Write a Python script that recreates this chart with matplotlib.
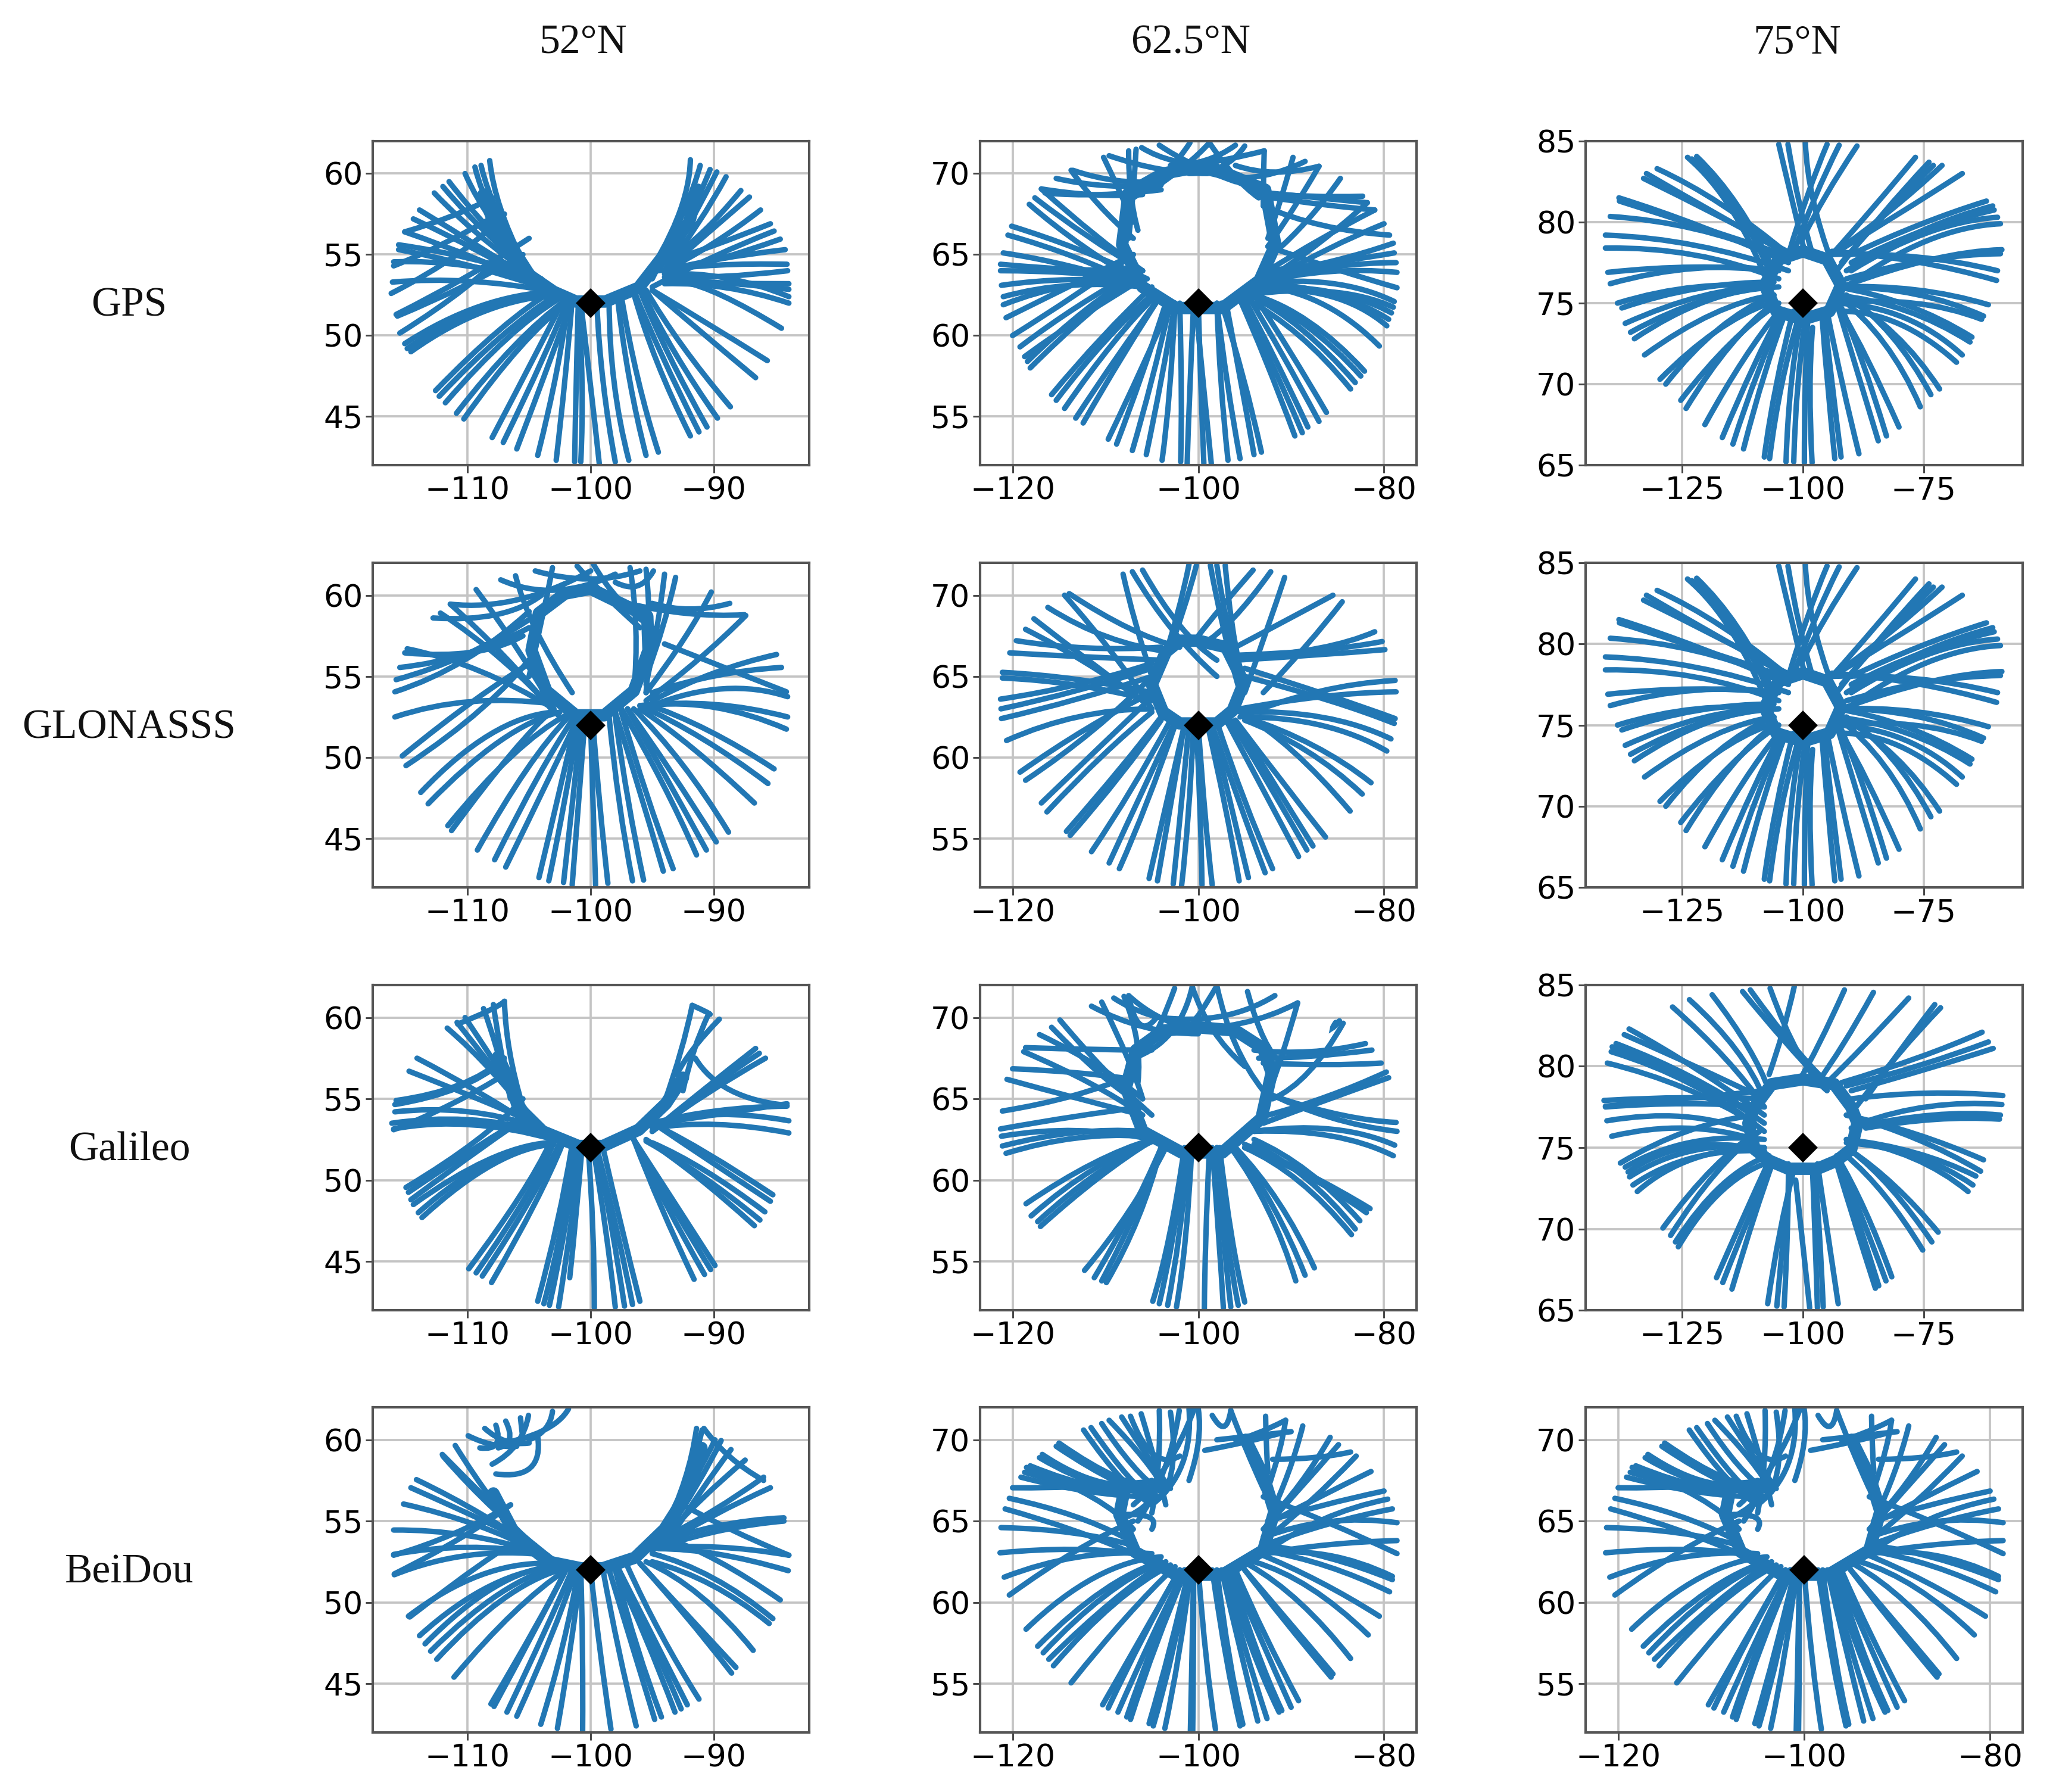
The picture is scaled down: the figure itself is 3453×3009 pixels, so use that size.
#!/usr/bin/env python
"""Ground tracks seen from three latitudes, one row per constellation."""

import matplotlib
matplotlib.use("Agg")
import matplotlib.pyplot as plt
from matplotlib.patches import PathPatch
from matplotlib.path import Path

# each track: outer end lon/lat, bend point lon/lat, inner end lon/lat
gps_52 = [
    (-108.2,60.8,-107.8,58,-105.5,54.6), (-108.9,60.5,-108,57.5,-104.5,53.6), (-109.4,60.4,-108.5,57.5,-104.5,53.4),
    (-110.2,60,-108.5,57,-103.5,52.8), (-111.5,59.5,-108.5,56.5,-103,52.6), (-112,59.2,-108.5,56,-102.5,52.4),
    (-112.7,58.8,-109,55.8,-102,52.2), (-113.9,57.75,-109,55.5,-103.5,52.8), (-114.4,57.2,-109,55.3,-104,53),
    (-115.1,56.4,-109,54.8,-103.5,52.8), (-115.1,56.4,-111,57.3,-108,58.5), (-115.6,55.6,-110,55,-104,53.5),
    (-115.6,55.3,-110,54.5,-104,53), (-116,54.55,-110,54.7,-104.5,53.3), (-116,54.3,-112,55.5,-107.5,57.5),
    (-116.1,53.3,-110,53.7,-103,52.7), (-116.2,52.6,-110,55,-107,57.5), (-115.8,51.3,-110,53.5,-105,56),
    (-115.7,51.2,-110,53,-105.5,55), (-115.5,50.15,-109.5,53,-106.5,55.5), (-115.1,49.5,-109,52.5,-103,52.7),
    (-114.9,49.2,-108.5,52.5,-102.5,52.4), (-114.6,49,-108.5,52.3,-102.5,52.5), (-112.6,46.6,-107,51,-103,52.8),
    (-112.3,46.25,-107,50.5,-102.8,52.5), (-111.8,45.85,-106.5,50.5,-102.5,52.3), (-110.9,45.2,-106,50,-102,52.2),
    (-110.3,44.85,-105.5,50,-101.8,52.1), (-108,43.7,-104,49.5,-102,52.5), (-107.1,43.4,-103.5,49,-101.8,52.3),
    (-106,43,-103,49,-101.5,52.2), (-104.3,42.6,-102.5,48,-101.8,52.3), (-102.8,42.3,-102,47.5,-101.5,52.2),
    (-101.3,42.2,-101.2,47,-101,52.1), (-100.8,42.2,-100.5,47,-101,52), (-99.3,42.1,-100,47,-100.8,52),
    (-98,42.2,-99.2,47,-99.5,52), (-96.9,42.3,-98.5,47,-98.5,52.2), (-95.5,42.6,-97,47,-97.8,52.2),
    (-94.5,42.8,-96.3,47,-97.5,52.4), (-91.9,43.8,-95,48.5,-96.5,52.6), (-91.2,44.05,-94.5,49,-96.5,52.8),
    (-90.55,44.35,-94,49,-96,52.8), (-89.7,44.9,-93.5,49,-95.8,52.7), (-88.65,45.6,-93,49.5,-95.5,52.8),
    (-86.6,47.4,-91.5,50.5,-95,52.8), (-85.65,48.45,-91,51,-95,52.8), (-84.5,50.45,-90,53,-92.5,53.3),
    (-83.9,52,-89,53.3,-94,53.2), (-83.9,52.4,-89,54,-94,53.8), (-83.9,52.85,-88.5,53.3,-93.5,53.4),
    (-83.9,53.2,-89,53.2,-94,53.3), (-84,54,-89.5,53.5,-94,53.6), (-84.05,54.4,-90,54.5,-94.5,54),
    (-84.2,55.3,-90,54.8,-94,54), (-84.6,55.95,-90,54.5,-93.5,54), (-85.1,56.45,-90,55,-95,53),
    (-85.4,56.9,-90,55.5,-94,54.5), (-86.2,57.75,-90,55.5,-94,54), (-87.1,58.55,-91,56,-94,54),
    (-87.8,58.95,-91,56,-93.5,54.8), (-89,59.8,-91,57,-94,54), (-89.75,60.1,-91.5,57.5,-94,54),
    (-90.3,60.25,-91.7,57.5,-94.5,54), (-91.1,60.5,-92,58,-95,53.5), (-91.9,60.85,-92,57.5,-96,53),
]
gps_625 = [
    (-109.6,71.1,-104,70,-99,70), (-110.2,71,-108.5,69,-107,67), (-107.5,71.4,-107.5,68.5,-106.5,66.5),
    (-106.7,71.5,-107,68.5,-107.5,66), (-106.1,71.6,-103,70.5,-98,70.5), (-104.2,71.75,-101,70.5,-96,69.5),
    (-100.9,71.9,-103,70,-107,68.5), (-98.8,71.9,-101,70.5,-105,69), (-98.8,71.9,-96,69.5,-93.5,68.5),
    (-96,71.75,-99,70.5,-103,70.5), (-95,71.7,-97,70,-101,70), (-92.9,71.4,-97,70.8,-101,70.5),
    (-92.9,71.4,-93,69.5,-93,68), (-89.8,71,-91,68.5,-92.5,66), (-88.5,70.75,-93,69.5,-97,69.8),
    (-87,70.45,-92,69.7,-96,70.5), (-87,70.45,-90,67.5,-92.5,65.5), (-84.7,69.7,-88,67,-92,65),
    (-82.3,68.6,-88,68.5,-93.5,68.8), (-81.8,68.2,-87,68.5,-92.5,68.8), (-81.8,68.2,-87,65.5,-92.5,63.5),
    (-81,67.75,-87,66,-92.5,64), (-81,67.75,-86,68,-92,68.5), (-80,66.9,-86,65.5,-92,63.5),
    (-79.4,66.2,-87,66.5,-93,68), (-79,65.7,-85,64.5,-92.3,63.8), (-78.9,65.1,-85,64.5,-92.5,64),
    (-78.7,64.5,-85,64.5,-93,63.5), (-78.6,63.9,-86,64.3,-93,63.3), (-78.6,62.95,-85,64,-92.5,65.5),
    (-78.9,62.1,-85,63.8,-94,63.2), (-79,61.75,-85,63.3,-95,62.5), (-79.2,61.4,-85,63.2,-94,63),
    (-79.5,61,-85,63,-94,63.3), (-79.7,60.6,-85,63.2,-94,62.8), (-80.5,59.35,-86,62.5,-92.5,63),
    (-82.1,57.8,-88,61.5,-94,62.5), (-82.5,57.5,-88,61,-94,62.5), (-83.1,57.1,-89,61,-94.5,62.5),
    (-83.6,56.7,-89,60.5,-95,62.3), (-86.2,55.25,-90,59,-94,62.5), (-87,54.7,-91,59,-94.5,62.3),
    (-88.2,54.35,-92,59,-95,62.2), (-88.8,54,-92.5,59,-95.5,62.2), (-89.6,53.8,-93,59,-95.5,62.2),
    (-93.2,52.8,-95,57.5,-97.5,62), (-94,52.65,-95.5,57.5,-97,62), (-95.5,52.4,-97,57,-98,62),
    (-96.8,52.3,-97.7,57,-98,62), (-98.6,52.1,-99.3,56,-100.3,62), (-99.4,52.1,-99.7,56,-100,62),
    (-101.2,52.05,-101,56,-100.5,62), (-101.9,52.2,-101.7,56,-102,62), (-103.9,52.3,-103,56,-102.5,62),
    (-105.6,52.65,-104,57,-102.5,62), (-107.1,52.9,-105,57,-103,62), (-108.8,53.3,-106,57.5,-103.5,62),
    (-109.7,53.6,-106,58,-103,62), (-112.4,54.6,-108,59,-104,62.5), (-113.2,54.9,-108.5,59,-104,62.5),
    (-114.4,55.5,-109,60,-104.5,62.5), (-115.3,56,-110,60,-105,62.5), (-115.8,56.35,-110.5,60,-105,63),
    (-118.1,58,-112,61.5,-106,64), (-118.4,58.4,-112,62,-106,64), (-118.7,58.7,-112,61.5,-106,63.5),
    (-119.2,59.3,-113,62,-106.5,64), (-120,60,-113,62.5,-107,65), (-120.7,61.1,-114,63,-107,65),
    (-121,61.9,-114,63.5,-106,63.5), (-121,62.4,-114,63.5,-106,63), (-121.2,63.1,-114,63.7,-106,63.3),
    (-121.3,64,-114,64,-106,63.5), (-121.3,64.4,-114,64,-107,64), (-121,65.1,-114,64.5,-106,63),
    (-120.5,66.2,-113,65,-106,63), (-120.1,66.75,-113,65.5,-105.5,63.5), (-118.2,68.1,-113,65.5,-105.5,63),
    (-117.6,68.5,-112,66,-106,64), (-116.9,69.05,-111,66,-106,64), (-116.9,69.05,-111,68.5,-106,68.7),
    (-116.5,68.8,-111,68.5,-104,69), (-115.3,69.7,-110,69,-104,69.3), (-113.7,70.2,-111,68,-107,66),
    (-113.5,70.2,-109,69.3,-104,69.5),
]
gps_75 = [
    (-105,84.8,-102,81,-99.5,78), (-103.1,84.8,-101,81,-98,78), (-99.5,84.9,-99,81.5,-94,77.5),
    (-95,84.8,-99,82,-103,78), (-92.5,84.75,-98,81.5,-102,78), (-88.8,84.7,-96,81.5,-100,79),
    (-76.7,84,-85,81,-94,78), (-73.9,83.7,-84,80.5,-93,77), (-71.2,83.5,-82,80.5,-94,78),
    (-73,83.5,-85,80,-92,77.5), (-67,83,-80,80.5,-95,77.8), (-62,81.3,-76,80,-90,78),
    (-60.7,81,-76,79.8,-91,77), (-60.4,80.75,-76,79.7,-90,77.5), (-59.7,80.3,-74,80,-90,77),
    (-59.1,79.9,-74,79.7,-91,76), (-58.8,78.3,-72,78.2,-92,76), (-59.1,78.05,-74,78,-91,76.5),
    (-59.7,77,-76,78.2,-94,78), (-59.9,76.4,-76,77.8,-94,78.2), (-61.6,74.9,-76,76.2,-93,76),
    (-62.6,74.2,-76,76,-92,76), (-63,74,-76,75.5,-93,75), (-65,72.9,-78,75.3,-93,76),
    (-65.4,72.6,-78,75,-93,75.5), (-67,71.8,-78,74.8,-93,75), (-68.2,71.35,-80,74.5,-92,74.5),
    (-71.7,69.7,-80,73.5,-92,75.5), (-73.5,69.35,-81,73.5,-91,75.5), (-75.7,68.6,-82,73,-93,75.5),
    (-80.1,67.35,-87,72,-92,74.5), (-82.7,66.8,-88,72,-92,74.7), (-84.4,66.5,-89,71,-93,75),
    (-88.4,65.7,-92,70,-95,74.5), (-92.1,65.5,-94,70,-95.5,74), (-93.4,65.4,-95,70,-96,74),
    (-98.1,65.15,-99,70,-98,73.5), (-99.7,65.15,-99.7,70,-99,74), (-101.9,65.2,-101.5,70,-99.5,74),
    (-103.5,65.2,-103,70,-100.5,74), (-106.9,65.4,-105,70,-101,74), (-108,65.5,-106,70,-102,74.5),
    (-112.3,66,-108,71,-103.5,74.5), (-114.5,66.3,-109.5,71,-104,74.5), (-116.7,66.7,-110,71.5,-104.5,74.5),
    (-120.3,67.5,-112,72,-105,74.5), (-124.2,68.5,-115,73,-106,75), (-125.3,69,-115,73,-105,75),
    (-128.4,70,-118,74,-106,75.5), (-129.6,70.3,-118,73.8,-107,75), (-132.8,71.8,-118,75,-106,75.5),
    (-134.9,72.8,-120,75.8,-106,76), (-135.7,73.2,-120,75.8,-105,76), (-136.8,73.75,-120,76,-107,76),
    (-138.4,75,-122,76.5,-106,76), (-137.5,74.7,-122,76.3,-106,76.3), (-139.9,76.2,-122,77.7,-105,77),
    (-140.4,76.9,-122,77.5,-106,77), (-140.9,78.4,-122,78.5,-105,76.5), (-140.9,79.2,-122,79,-103,77),
    (-139.9,80.35,-122,80,-106,78), (-138.1,81.5,-122,80,-103,77.5), (-138,81.3,-122,79.8,-104,78),
    (-133,82.7,-118,80.5,-102,78), (-132.4,83,-118,80.5,-103,78), (-130.2,83.3,-117,81.5,-103,78),
    (-123.9,84,-114,81.5,-107,76), (-122,84.05,-113,81.5,-106,77), (-123,83.9,-113,81.3,-107,77),
]
glonass_52 = [
    (-103.1,61.7,-103.5,60,-105,55), (-104.5,61.5,-100,60.5,-96,61.5), (-106.1,61.2,-105,58,-101.5,54),
    (-107.3,60.95,-103,59.5,-98,61.3), (-109.3,60.35,-106,57,-103,53), (-111.4,59.45,-106,59,-100,61.5),
    (-111.4,59.45,-107,56.5,-103,52.8), (-112.2,58.9,-107,56.3,-102.5,52.5), (-112.8,58.6,-107,58.3,-104,60),
    (-114.9,56.7,-109,55.8,-103,53), (-115.1,56.45,-109,56,-105.5,57.5), (-115.5,55.55,-110,56,-105,58),
    (-115.8,54.8,-110,56,-105,58.5), (-115.9,54.05,-110,55.5,-105,59), (-115.9,52.5,-110,54,-103,53.3),
    (-115.3,50.1,-109,54,-104.5,56), (-115,49.5,-108,53,-104.5,56.5), (-113.8,47.85,-108,52.5,-103,52.8),
    (-113.2,47.15,-107,52,-102.5,52.8), (-111.6,45.8,-106,51,-102,52.6), (-111.3,45.5,-106,51,-103,53),
    (-109.2,44.3,-105,50,-101.8,52.5), (-107.8,43.7,-104,49.5,-101.5,52.3), (-106.9,43.25,-103.5,48.5,-101,52.5),
    (-104.2,42.6,-102.5,48,-101.2,52.3), (-103.4,42.4,-102,47.5,-101,52.2), (-102.2,42.3,-101.5,47,-100.8,52),
    (-101.5,42.15,-101,47,-100.5,52), (-99.6,42.15,-99.8,47,-100,52), (-98.6,42.25,-99.3,47,-99.8,52),
    (-96.6,42.4,-97.8,47,-98.5,52.5), (-95.7,42.45,-97,47,-98,52.5), (-94.1,43,-96,48,-98,52.8),
    (-93.3,43.15,-95.5,47.5,-97.5,52.8), (-91.4,44,-94,48.5,-97.5,53), (-90.6,44.3,-94,49,-97,53),
    (-89.8,44.8,-93.5,49.3,-97,53), (-88.8,45.4,-92.5,50,-96.5,53), (-86.7,47.2,-92,51,-96,53),
    (-85.6,48.4,-91,51.5,-96,53.2), (-85.1,49.3,-90.5,52,-95.5,53.3), (-84.1,51.75,-90,53.7,-95.5,53.2),
    (-84,52.5,-90,53.7,-96,53.2), (-84,53.75,-89,55,-95,53.2), (-84.1,54.05,-89,55.5,-94,57),
    (-84.5,55.55,-90,55.3,-95,54), (-84.9,56.35,-90,55.5,-95,53.5), (-87.4,58.75,-91,56,-95.5,53.5),
    (-88.7,59.5,-92,58.8,-95,59.5), (-87.5,58.8,-92,58.6,-97,59.5), (-90.2,60.2,-92,57.5,-95.5,54),
    (-93.1,61.1,-94,58,-95.5,55), (-94,61.3,-94.5,58,-95.5,54.5), (-94.9,61.5,-96,60,-98,60.8),
    (-96.8,61.7,-96,58,-96.5,54), (-95.5,61.6,-95,58,-95.5,54), (-99.8,61.95,-98,59.5,-95,58),
    (-101.1,61.8,-99,60,-96,58),
]
glonass_625 = [
    (-101,71.9,-102,69,-104,65.5), (-100.2,71.85,-101.5,69,-103.5,66), (-98.7,71.85,-97.5,68,-95.5,64),
    (-98,71.85,-97,68,-95.5,65), (-97.1,71.85,-96.5,68,-95.5,65.5), (-94.1,71.55,-98,69,-100,67.5),
    (-92.2,71.45,-96.5,68,-99.5,67), (-90.7,71.1,-92.5,68,-95,64), (-85.5,70,-92,68,-97,66.5),
    (-84.5,69.6,-88,67,-93,64), (-81,67.75,-86,66.5,-95,66.2), (-80.2,67.15,-86,66.5,-96,66.3),
    (-79.9,66.65,-87,66.3,-96,66), (-78.8,64.75,-87,64.5,-95.5,62.5), (-78.7,64.05,-86,64,-95.5,63),
    (-78.8,62.4,-85,63.7,-95,65.5), (-78.9,62.1,-85,63.5,-95,65), (-79.25,61.15,-86,63,-95.5,62.8),
    (-79.7,60.4,-86,62.5,-95,62.5), (-81.4,58.45,-87,61,-95,62.5), (-82.35,57.75,-88,60.8,-95,62.3),
    (-83.65,56.7,-90,61,-95.5,62.8), (-86.3,55.1,-91,58.5,-96,62.3), (-87.65,54.55,-92,58.5,-96,62.3),
    (-88.3,54.3,-92,58,-96.5,62.3), (-89.2,53.9,-93,58,-97,62.3), (-92,53.15,-95,57,-98,62.2),
    (-92.8,52.9,-95.5,57,-98.5,62), (-94.6,52.6,-96.5,57,-98.5,62), (-95.6,52.4,-97,57,-99,62),
    (-98.5,52.15,-99.3,56,-100,62), (-99.6,52.15,-99.7,56,-100.2,62), (-101.8,52.1,-101,56,-100.5,62),
    (-102.7,52.2,-102,56,-101,62), (-104.4,52.4,-103,57,-101.5,62), (-105.3,52.55,-103.5,57,-101.5,62),
    (-108.5,53.15,-105.5,57,-102.5,62), (-109.6,53.5,-106,58,-102.5,62.2), (-111.5,54.2,-107,58,-103,62.3),
    (-113.8,55.2,-108,59,-104,62.3), (-114.2,55.45,-108,59.5,-104,62.5), (-116.3,56.65,-110,60.5,-105,62.8),
    (-116.9,57.2,-110,61,-104.5,64), (-118.6,58.6,-111,61.5,-105,65), (-119.2,59.1,-112,62,-105,64),
    (-120.65,61.05,-113,63,-105,63), (-121.2,62.4,-113,63.5,-105,65), (-121.25,63,-113,64,-105,65.5),
    (-121.3,63.6,-113,64.3,-105,65.8), (-121.1,64.9,-113,64.7,-105,63.5), (-121.1,65.25,-113,65,-105,64),
    (-120.3,66.45,-113,66.2,-104,66), (-119.6,67.2,-112,66.5,-104,66.8), (-118.6,67.9,-112,66,-106,63.5),
    (-117.7,68.55,-112,66,-106,63.5), (-116.2,69.25,-110,67,-103,66.5), (-114.4,70,-109,66.5,-105,63),
    (-113.9,70.1,-107,67.5,-102,66.8), (-108.1,71.3,-107,68.5,-105,65), (-107.1,71.45,-103,67.5,-98,65),
    (-106,71.55,-102,67.5,-98,66),
]
galileo_52 = [
    (-107,61,-106.9,58,-105.5,54.5), (-107.9,60.8,-107.5,58.5,-106.5,55), (-108.7,60.55,-107.7,58.5,-106.5,55),
    (-110.2,60,-108,57.5,-105,54), (-110.85,59.7,-108,57,-105,54), (-111.65,59.35,-108,57,-104,53),
    (-114.1,57.5,-109,55.5,-104,53), (-114.75,56.7,-109,55,-104.5,53.5), (-115.8,54.9,-110,55.5,-107,57.5),
    (-115.9,54.65,-110,55.4,-107.2,57.3), (-115.9,54.2,-110,54.7,-104.5,53.3), (-116.15,53.5,-110,54.2,-104,53),
    (-116,53.15,-110,54,-103,52.5), (-115,49.55,-108.5,52.5,-105.5,55), (-114.8,49.25,-108.5,52.5,-105,54),
    (-114.6,48.8,-108,52.5,-105,54), (-114.4,48.5,-108,52,-103.5,52.3), (-114,48,-108,52,-103,52.3),
    (-113.7,47.7,-107.5,52,-103,52.2), (-109.9,44.55,-105,49.5,-103.3,52.3), (-109.3,44.3,-104.5,49.5,-103,52.3),
    (-108.8,44.1,-104.5,49,-102.5,52.3), (-108.05,43.7,-104,49,-102.3,52.2), (-104.3,42.55,-102.5,47.5,-101.5,52.2),
    (-103.8,42.4,-102,47.5,-101.5,52.1), (-103.35,42.3,-101.8,47.5,-101.2,52), (-102.6,42.2,-101.5,47.5,-100.8,52),
    (-101.7,44,-101.2,47.5,-100.7,52), (-99.7,42.15,-99.7,47,-100.2,52), (-98,42.2,-98.7,47,-99.8,52),
    (-97.25,42.25,-98.2,47,-99.5,52), (-96.6,42.35,-97.8,47,-99.5,52), (-96,42.55,-97.5,47,-99,52),
    (-91.6,43.9,-94.5,48.5,-96.5,52.5), (-90.75,44.2,-94,48.5,-96.5,52.5), (-90.25,44.5,-93.5,48.5,-96.5,52.5),
    (-89.9,44.75,-93.5,49,-96.5,52.5), (-86.7,47.2,-91.5,50.5,-95.5,52.5), (-86.25,47.55,-91,50.5,-95.5,52.4),
    (-85.85,48.05,-91,51,-95,52.3), (-85.4,48.7,-91,51.5,-94.5,53.3), (-85.2,49.1,-91,52,-94.5,53.3),
    (-83.9,52.9,-90,53.8,-95,53.2), (-83.9,53.65,-90,54.5,-94.5,53.5), (-84.05,54.55,-90,54.5,-95,53.5),
    (-84.05,54.7,-90,54,-94.5,53.5), (-85.8,57.5,-90.5,55.5,-95,53), (-86.3,57.8,-90.5,55.7,-95,53),
    (-86.6,58.1,-91,55.5,-95,53), (-89.55,59.9,-92,58,-93,56.5), (-90.4,60.25,-91.8,58,-92.5,55.5),
    (-91.75,60.75,-92.5,58,-94,54.8), (-84.05,54.6,-89.5,55,-91.5,57.5), (-91.75,60.75,-90.4,60.3,-90.3,60.2),
    (-116,53.1,-111,54.6,-107,56.5), (-110.8,59.6,-107.5,60.6,-107,61),
]
galileo_625 = [
    (-102.55,71.8,-104,69.5,-105.5,68), (-100.65,71.9,-102,68.5,-107,67.5), (-100.65,71.9,-99,69,-95,67),
    (-98,71.95,-100,70,-100.5,69.8), (-98,71.95,-96.5,68,-93,65.5), (-94.7,71.6,-93,68,-91,67.2),
    (-91.75,71.35,-97,69.5,-104,70), (-89.3,70.9,-95,69.2,-102,69.3), (-89.3,70.9,-91,67.5,-92,66),
    (-84.4,69.65,-88,66,-92,65), (-85.2,69.7,-86,69,-84.8,69.8), (-82,68.4,-88,67.6,-94,68),
    (-81.3,68,-88,67.5,-93.5,67.5), (-80.3,67.2,-86,67,-93,67.2), (-79.75,66.65,-86,65,-92.5,64),
    (-79.5,66.3,-86,65,-93,63.5), (-78.7,63.55,-84,63.7,-91,65), (-78.6,63,-86,63.5,-93,65.5),
    (-78.85,62.15,-85,63.7,-94,63), (-79,61.5,-85,63.2,-94,63), (-81.5,58.25,-88,60.5,-95,62.2),
    (-81.9,58,-88,60.5,-95,62), (-82.6,57.5,-88,61,-94,62.5), (-83.1,57,-88,60.5,-94,62.2),
    (-83.5,56.65,-89,60.5,-95,62), (-87.5,54.6,-91,59,-96,62), (-88.5,54.15,-91.5,58.5,-96,62),
    (-89.5,53.8,-92,58.5,-96.5,62), (-95,52.5,-96.5,56,-97.7,62), (-95.7,52.3,-97,56,-98,62),
    (-96.5,52.2,-97.3,56,-98,62), (-97.3,52.15,-97.7,56,-98.5,62), (-99.35,52,-99.3,56,-98.8,62),
    (-102.35,52.2,-101.2,56,-100.7,62), (-103.3,52.3,-102,56,-101,62), (-104.2,52.4,-102.7,56,-101.2,62),
    (-104.9,52.55,-103,56,-101.5,62), (-109.9,53.7,-106,57.5,-104,62), (-110.4,53.8,-106.5,58,-104,62),
    (-111.2,54,-107,58,-104,62), (-112.25,54.45,-107,58,-103.5,62), (-117,57.15,-110.5,60.5,-104.8,62.5),
    (-117.3,57.45,-110.5,61,-104.5,62.5), (-118,57.8,-111,61.3,-104.5,62.5), (-118.55,58.55,-111,61.5,-105,62.5),
    (-120.7,61.65,-113,63,-106,62.7), (-121.1,62.1,-113,63.3,-106,63), (-121.2,62.7,-113,63.5,-105,62.5),
    (-121.3,63.15,-113,64,-106,64.5), (-121.1,64.25,-113,65,-107,66.5), (-120.6,66.2,-113,65,-106,64),
    (-120,66.85,-113,66.7,-107,66.2), (-118.8,67.9,-111,66,-106,64), (-118.6,68.15,-111,68,-105,68),
    (-117.1,68.95,-110,67,-106,65), (-115.8,69.4,-110,66,-107,65), (-114.9,69.85,-110,66.5,-105,64),
    (-111.5,70.7,-106,69,-100,69), (-110.4,70.95,-107,67,-106,65), (-109.1,71.2,-106,70,-100,69.5),
    (-107.5,71.35,-103,69,-97,69.2), (-108,71.3,-106,68.5,-106.5,66), (-107.5,71.3,-106.5,68.5,-104.5,70),
]
galileo_75 = [
    (-101.8,84.9,-104,82,-107,79.5), (-106.8,84.8,-101,80,-95,78.5), (-110.9,84.7,-102,81,-95,79),
    (-112.5,84.6,-104,81.5,-96,79), (-118.8,84.4,-110,81,-107,78.5), (-123.5,84.1,-112,81,-108,78),
    (-127,83.65,-115,80.5,-108,77.5), (-136,82.3,-122,80,-108,77), (-137,81.95,-122,80,-108,78),
    (-138.7,81.4,-122,79.5,-110,77), (-139.5,81.2,-122,79.5,-108,76.5), (-139.7,80.9,-122,79.3,-108,76),
    (-140.5,80.2,-124,79,-110,76.5), (-141.2,77.9,-124,78.2,-108,78), (-140.9,77.55,-124,78,-108,78.5),
    (-140.9,77.5,-124,77.9,-108,77.5), (-140.6,76.65,-124,77.5,-111,76), (-139.6,75.7,-124,76.8,-110,75.5),
    (-137.8,74.05,-124,76.5,-110,77), (-136.8,73.8,-124,76,-108,75.5), (-136.2,73.5,-124,76,-108,74.8),
    (-135.9,73.2,-124,75.5,-108,75), (-135.2,72.7,-124,75,-108,74.8), (-134.3,72.3,-124,75,-108,75),
    (-129,70.05,-118,74.5,-109,76), (-127.4,69.6,-118,74,-109,76), (-126.4,69.2,-117,73.5,-107,74.5),
    (-125.8,68.9,-117,73.3,-106,74.2), (-117.9,67,-112,71,-107,74.2), (-116.6,66.7,-111,71,-106,74.2),
    (-114.7,66.3,-110,71,-106,74.3), (-107.3,65.4,-105,70,-102,73.5), (-105.4,65.25,-104,70,-102.5,73.5),
    (-103.9,65.2,-103,70,-103,74), (-98.6,65.15,-100,69,-101.5,73), (-97,65.15,-97.5,70,-98,73.5),
    (-95.8,65.2,-96.5,70,-97.5,73.5), (-92.7,65.4,-95,70,-97,74), (-85,66.35,-90,71,-93,74),
    (-84.3,66.5,-89,71,-92.5,74), (-82.8,66.8,-88,71,-93,74.5), (-81.6,67.05,-87,71.5,-93,74.5),
    (-75.2,68.7,-83,72.5,-91,74.5), (-73.3,69.2,-82,73,-90,74.8), (-72,69.8,-81,73,-90,74.8),
    (-65.8,72.3,-76,74.8,-91,75.5), (-64.8,72.7,-76,75,-91,75.3), (-64.2,73.25,-76,75,-91,75.5),
    (-63.2,73.55,-76,75.8,-91,77), (-62.6,74.25,-76,76,-91,77), (-59.3,76.75,-72,77,-87,76.2),
    (-59.1,77,-72,77.4,-90,76.2), (-58.8,77.65,-74,78,-88,76.5), (-58.6,78.2,-74,78.6,-90,78),
    (-60.6,81.1,-72,80,-90,78.5), (-61.6,81.5,-75,80,-91,78.8), (-62.9,82.1,-75,80.5,-92,79),
    (-71.5,83.6,-80,81,-89,77.5), (-72.7,83.8,-80,81,-87,78), (-78.1,84.2,-88,81,-95,79),
    (-85.4,84.55,-92,81,-97,79), (-91.4,84.7,-97,81,-101,79),
]
beidou_52 = [
    (-101.8,61.9,-103,60.3,-107.8,59.7), (-103.1,61.75,-103.3,60.5,-105,60), (-105.05,61.5,-105.5,59.5,-108,58.5),
    (-105.7,61.35,-105.5,60,-105.5,60), (-106.9,61.15,-106,59.8,-107.5,59.5), (-107.7,60.9,-107,59.3,-109,59.5),
    (-108.6,60.7,-107,59.6,-105,59.8), (-109.95,60.25,-108,59.5,-106,59.6), (-111,59.65,-108,56,-105,53.5),
    (-112.05,59.1,-108,56,-104,53), (-112,59,-108,55.5,-103,52.6), (-104.3,60.2,-103.8,57.5,-107.7,57.9),
    (-114.15,57.55,-108.5,55.5,-104,53), (-114.6,57.05,-108.5,55,-104.5,53.5), (-115.2,56.05,-109,55,-104,53),
    (-116,54.45,-110,54.5,-104,53), (-116,52.95,-110,53.8,-104,53), (-116,52.9,-111,54,-106.5,56),
    (-115.95,51.75,-110,54,-106.5,56), (-115.95,51.7,-110,53.5,-103.5,52.9), (-114.8,49.15,-109,52.5,-103.5,52.4),
    (-114.7,49.1,-108,53,-105.5,54), (-113.9,47.95,-108,52,-102.5,52.2), (-113.45,47.45,-107.5,52,-103,52.2),
    (-113,47,-107,51.5,-102.5,52.2), (-112.5,46.5,-107,51,-102.5,52), (-111.1,45.4,-106,50,-102,52),
    (-108.1,43.75,-104,49,-102,52), (-107.85,43.6,-104,49,-102,52), (-106.8,43.25,-103.5,48.5,-101.5,52),
    (-106,43,-103,48,-101.2,52), (-104.05,42.5,-102,47.5,-101,52), (-102.7,42.25,-101.5,47.5,-100.8,52),
    (-100.65,42.1,-100.6,47,-100.8,52), (-98.35,42.2,-99.3,47,-100,52), (-96.3,42.4,-97.8,47,-99,52),
    (-94.8,42.8,-96.5,47,-98.5,52), (-94.25,42.95,-96.3,47,-98,52), (-93.15,43.25,-95.5,48,-98,52),
    (-92.65,43.45,-95.2,48,-97.7,52), (-92.15,43.7,-95,48,-97.7,52), (-91.2,44.05,-94.5,48,-97,52.2),
    (-88.55,45.65,-92.5,49.5,-96,52.4), (-88.2,46,-92.5,49.5,-96,52.4), (-86.8,47.05,-91,51,-95.5,52.5),
    (-85.5,48.7,-90,51.5,-95,52.5), (-85.2,49,-90,52,-95,53), (-84.6,50.15,-90,53,-94,54),
    (-83.95,51.95,-90,53.3,-94.5,53.3), (-83.9,52.9,-90,53.7,-95,53.3), (-83.9,52.9,-89,54.5,-92.5,56),
    (-84.3,55,-89,54.7,-94,53.5), (-84.3,55.2,-90,55,-95,53.5), (-85.4,57.05,-90,55.5,-95,53.2),
    (-85.95,57.7,-90,55.5,-94,54), (-87.45,58.75,-91,56.5,-94,54), (-88.6,59.4,-91,57,-93.5,54),
    (-89.4,59.95,-91,57.5,-94,54), (-89.9,60,-91.5,57.5,-94,54.5), (-90.95,60.6,-92,57,-95,53.5),
    (-91.4,60.7,-92,57.5,-94,54.5), (-85.95,57.5,-89,58.8,-90.8,60.7),
]
beidou_625 = [
    (-115,69.8,-108,67,-104,67), (-115.3,69.6,-108,66.8,-104,66.5), (-116.8,69.1,-110,66.5,-105,67.5),
    (-117.1,68.9,-110,66.5,-105,67), (-118.1,68.4,-110,66.5,-105,67), (-118.7,68,-110,66.5,-104,67),
    (-119.1,67.7,-111,66.5,-105,66.5), (-118.5,68.3,-110,66.5,-107,64.5), (-120,67.05,-112,67,-104,67.5),
    (-120.35,66.4,-113,65.5,-108,64), (-120.8,65.75,-113,64.5,-107,63), (-121.25,64.6,-113,64.5,-107,63.5),
    (-121.35,63.05,-113,63.5,-107,63), (-120.9,61.55,-113,63.3,-105,63), (-120.35,60.45,-113,63.5,-107,65),
    (-118.55,58.35,-111,62.5,-104,62.8), (-117.3,57.3,-110,61.5,-104,62.5), (-116.7,56.9,-110,61,-104,62.5),
    (-116.1,56.5,-109,60.5,-103.5,62.5), (-115.6,56.1,-109,60.5,-103,62.3), (-113.7,55.05,-107.5,59.5,-102.5,62.2),
    (-110.3,53.7,-106,58,-102,62), (-109.7,53.5,-106,58,-102,62), (-108.65,53.25,-105,58,-101.5,62),
    (-107.7,52.95,-105,57.5,-101.5,62), (-107.3,52.8,-104.7,57.5,-101.3,62), (-105.3,52.55,-103,57,-101,62),
    (-104.85,52.4,-102.5,57,-101,62), (-103.6,52.25,-102,56.5,-100.8,62), (-100.85,52.1,-100.7,56,-100.5,62),
    (-100.6,52.1,-100.5,56,-100.5,62), (-98.15,52.2,-99.2,56,-100,62), (-95.5,52.4,-97,56,-98.5,62),
    (-95.2,52.5,-96.7,56,-98,62), (-93.6,52.7,-95.5,57,-97.5,62), (-92.6,52.85,-95,57,-97.3,62),
    (-91.3,53.25,-94.5,57,-97,62), (-91,53.35,-94,57,-96.5,62), (-90,53.55,-93.5,58,-96.5,62),
    (-89.2,53.95,-93,58,-96,62), (-85.7,55.4,-91,59,-95,62), (-85.5,55.6,-90.5,59,-95,62),
    (-83.6,56.55,-89,60.5,-94.5,62.3), (-81.7,58,-88,61.5,-94,62.5), (-80.5,59.15,-87,61.5,-93.5,63),
    (-79.4,60.65,-86,62.5,-93,63.2), (-79.1,61.4,-86,63,-92.5,63.5), (-79.1,61.6,-86,63.5,-93,63),
    (-78.6,63,-86,65,-93,66.5), (-78.6,63.8,-86,63.7,-93,63), (-78.6,64.9,-86,65.5,-93,64),
    (-79.1,65.75,-86,65,-93,63.5), (-79.6,66.35,-87,65.5,-93,63), (-80,66.85,-87,66,-92.5,65),
    (-81.4,68.05,-87,66.5,-92,65), (-83,69,-88,66,-92.5,64), (-83.6,69.25,-87,68.8,-92,68.8),
    (-84.9,69.7,-89,67,-93,64.5), (-85.8,70.15,-89,67,-92.5,65), (-88.75,70.85,-90,68,-92.5,65),
    (-90.6,71.2,-91,69.5,-92.5,67), (-90.6,71.2,-94,70.2,-96,70), (-92.75,71.45,-92.7,69.5,-92.5,68),
    (-96.5,71.8,-95,69.5,-93,67), (-96.5,71.8,-97,70,-98.5,71.5), (-99.3,69.35,-95,69.8,-90.5,70.5),
    (-98,70,-93,70.3,-90,70.5), (-100.4,71.95,-103,68,-107,66), (-102.05,71.8,-103,68,-106.5,65),
    (-104.2,71.8,-104,68.5,-105,65.5), (-106.15,71.6,-104.5,68.5,-103.5,66), (-107.3,71.45,-105,68,-102,69),
    (-108.25,71.4,-105,68.5,-103,67), (-109.6,71.2,-105,68.5,-103.5,66.8), (-110.4,71,-107,68,-104,66.8),
    (-111.55,70.75,-107,67,-105,66.5), (-112.35,70.6,-108,67,-105,66), (-101,71.9,-100.5,68,-105,66),
    (-103,71.7,-102,68,-104,66.5), (-105,64.5,-104,65.5,-108,65.4), (-106.5,67,-103.5,66.5,-107.5,65.3),
    (-100,71.9,-99.5,70,-101,67.5),
]

# band of merged tracks around the empty middle of each panel, lon/lat
rim_gps_52 = [(-108.7,58.7), (-107.5,56.2), (-105.3,53.9), (-103,52.7), (-101.2,52.1), (-98.8,52.1), (-96.1,52.95), (-93.9,55.1), (-92,57), (-91.3,59)]
rim_gps_625 = [(-100,70.4), (-97,70), (-92.8,69), (-91.7,65.6), (-93.4,63.4), (-97.4,61.7), (-102.4,61.7), (-106,63), (-108.2,65.6), (-107.5,68.8), (-103.8,70), (-100,70.4)]
rim_gps_75 = [(-100,78.2), (-95,77.7), (-92.1,76.1), (-94.5,74.5), (-100,74), (-105.5,74.5), (-107.9,76.1), (-105,77.7), (-100,78.2)]
rim_glonass_52 = [(-100,60.4), (-95.4,58.7), (-95.3,56.6), (-96.5,54.1), (-98.9,52.6), (-101.2,52.6), (-103.6,54.1), (-104.8,56.6), (-104.2,58.9), (-102.1,60.1), (-100,60.4)]
rim_glonass_625 = [(-100,67.2), (-97,66.8), (-95.1,64.6), (-96.3,62.9), (-98,62.1), (-102,62.1), (-103.8,62.8), (-105,64.5), (-103.5,66.5), (-102,67.2), (-100,67.2)]
rim_galileo_52 = [(-107.5,57.6), (-106.3,55.5), (-105.9,54.5), (-103.9,53), (-101,52.1), (-99,52.1), (-96.1,53.1), (-93.9,54.7), (-92.5,56.3)]
rim_galileo_625 = [(-100,69.4), (-96,69.2), (-93,68.1), (-92.1,66.6), (-93.2,63.8), (-97.4,61.7), (-101.8,61.7), (-106,63), (-107.8,65.7), (-106.7,68), (-103.8,69.2), (-100,69.4)]
rim_galileo_75 = [(-100,79.2), (-93.5,78.9), (-90,77.5), (-88.7,76.5), (-90,74.9), (-93,74.2), (-97,73.7), (-103,73.7), (-107,74.2), (-110,74.9), (-111.3,76.5), (-110,77.5), (-106.5,78.9), (-100,79.2)]
rim_beidou_52 = [(-107.9,56.7), (-106.1,54.1), (-103.4,52.5), (-100.8,52.1), (-99,52.1), (-96.4,52.75), (-94,54.5), (-91.9,57), (-91,59.5)]
rim_beidou_625 = [(-94.9,70), (-93,67.8), (-91.8,65.6), (-93,63.2), (-97.4,61.7), (-102.4,61.7), (-106.8,63.1), (-108.5,65.4), (-108,66.8)]

lat_ticks = [[45, 50, 55, 60], [55, 60, 65, 70], [65, 70, 75, 80, 85]]
lon_ticks = [[-110, -100, -90], [-120, -100, -80], [-125, -100, -75]]
x_limits = [(-117.7, -82.25), (-123.5, -76.5), (-145, -54.5)]
y_limits = [(42, 62), (52, 72), (65, 85)]
column_titles = ["52°N", "62.5°N", "75°N"]
row_titles = ["GPS", "GLONASSS", "Galileo", "BeiDou"]

W, H = 3453, 3009
COLUMNS = [(626, 1359), (1646, 2379), (2663, 3397)]
ROWS = [(237, 781), (945, 1490), (1654, 2200), (2363, 2909)]
BLUE = "#2277b4"

# (tracks, rim, which limits/ticks to use, centre latitude)
PANELS = [
    [(gps_52, rim_gps_52, 0, 52), (gps_625, rim_gps_625, 1, 62), (gps_75, rim_gps_75, 2, 75)],
    [(glonass_52, rim_glonass_52, 0, 52), (glonass_625, rim_glonass_625, 1, 62), (gps_75, rim_gps_75, 2, 75)],
    [(galileo_52, rim_galileo_52, 0, 52), (galileo_625, rim_galileo_625, 1, 62), (galileo_75, rim_galileo_75, 2, 75)],
    [(beidou_52, rim_beidou_52, 0, 52), (beidou_625, rim_beidou_625, 1, 62), (beidou_625, rim_beidou_625, 1, 62)],
]


def draw_panel(ax, tracks, rim, scale, centre_lat):
    ax.set_xlim(*x_limits[scale])
    ax.set_ylim(*y_limits[scale])
    ax.set_xticks(lon_ticks[scale])
    ax.set_yticks(lat_ticks[scale])
    ax.grid(color="#c4c4c4", lw=0.9)
    ax.set_axisbelow(True)
    ax.tick_params(labelsize=12.5, length=3, width=0.7, color="#444444")
    ax.tick_params(axis="x", pad=1.5)
    ax.tick_params(axis="y", pad=1.0)
    for spine in ax.spines.values():
        spine.set_color("#555555")
        spine.set_linewidth(1.0)
    for t in tracks:
        verts = [(t[0], t[1]), (t[2], t[3]), (t[4], t[5])]
        path = Path(verts, [Path.MOVETO, Path.CURVE3, Path.CURVE3])
        ax.add_patch(PathPatch(path, fc="none", ec=BLUE, lw=2.2, capstyle="round"))
    ax.plot([p[0] for p in rim], [p[1] for p in rim], color=BLUE, lw=5, solid_capstyle="round")
    ax.plot([-100], [centre_lat], marker="D", ms=7.4, color="black", zorder=5, clip_on=False)


def main():
    fig = plt.figure(figsize=(W / 300, H / 300), dpi=300)
    for r, row in enumerate(PANELS):
        top, bottom = ROWS[r]
        for c, (tracks, rim, scale, centre_lat) in enumerate(row):
            left, right = COLUMNS[c]
            ax = fig.add_axes([left / W, 1 - bottom / H, (right - left) / W, (bottom - top) / H])
            draw_panel(ax, tracks, rim, scale, centre_lat)
        fig.text(217 / W, 1 - ((top + bottom) / 2 + 5) / H, row_titles[r], family="Liberation Serif",
                 fontsize=16.7, ha="center", va="center", color="#111111")
    for (x, title) in zip((980, 2000, 3018), column_titles):
        fig.text(x / W, 1 - 73 / H, title, family="Liberation Serif", fontsize=16.7,
                 ha="center", va="center", color="#111111")
    fig.savefig("out.png", dpi=300)
    plt.close(fig)


if __name__ == "__main__":
    main()
